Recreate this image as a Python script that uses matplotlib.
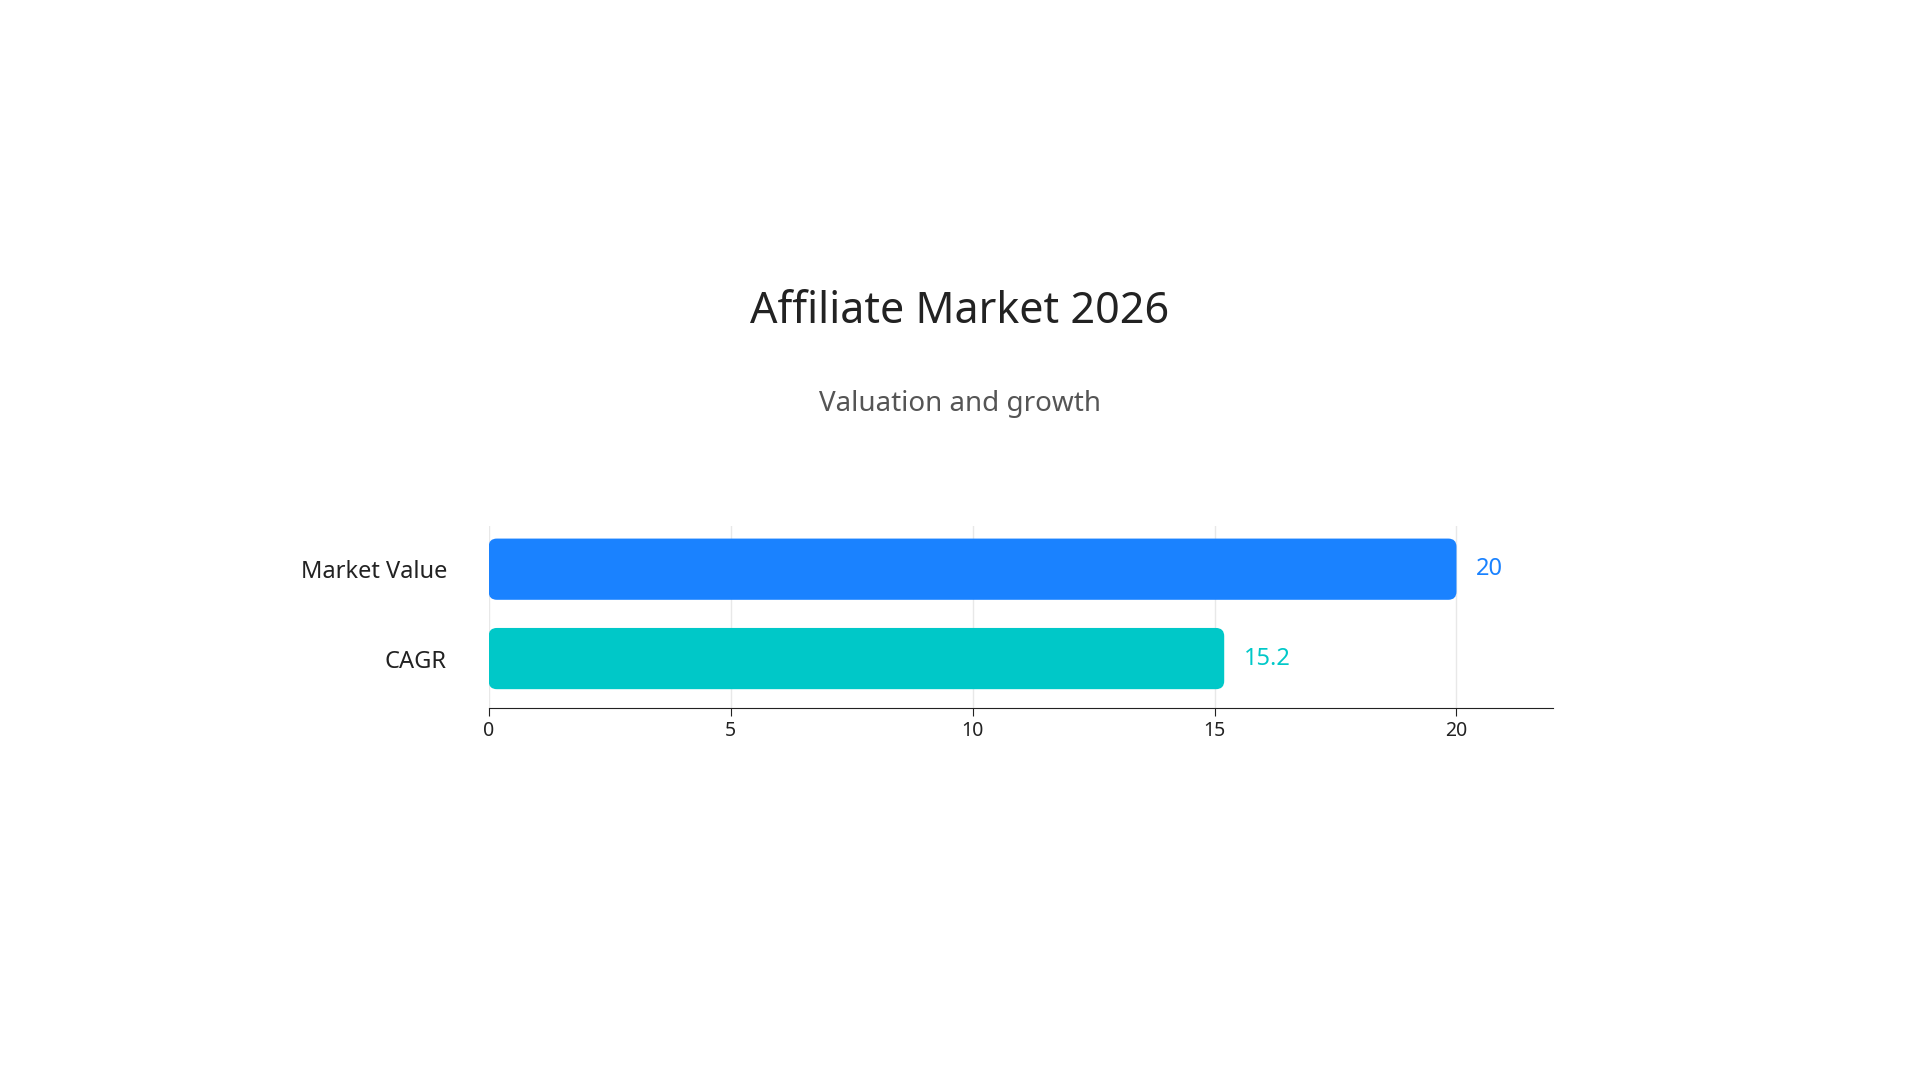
import matplotlib.pyplot as plt
from matplotlib.patches import FancyBboxPatch

plt.rcParams['font.family'] = ['Noto Sans', 'DejaVu Sans']

categories = ['Market Value', 'CAGR']
values = [20, 15.2]
value_labels = ['20', '15.2']
colors = ['#1a82ff', '#00c8c8']
ticks = [0, 5, 10, 15, 20]

fig = plt.figure(figsize=(19.2, 10.8), dpi=100)
ax = fig.add_axes([0.2545, 0.3447, 0.5545, 0.168])

bar_h = 0.685
for i, (v, c) in enumerate(zip(values, colors)):
    ax.add_patch(FancyBboxPatch((0, i - bar_h / 2), v, bar_h,
                                boxstyle='round,pad=0,rounding_size=0.17',
                                mutation_aspect=0.54, fc=c, ec='none', zorder=3))
    ax.text(v + 0.4, i, value_labels[i], color=c, fontsize=17, fontweight='bold',
            va='center', ha='left')

ax.set_xlim(0, 22)
ax.set_ylim(1.55, -0.48)
ax.set_yticks(range(len(categories)))
ax.set_yticklabels(categories, fontsize=17, color='#222222')
ax.set_xticks(ticks)
ax.set_xticklabels([str(t) for t in ticks], fontsize=14, color='#222222')
ax.tick_params(axis='y', length=0, pad=30)
ax.tick_params(axis='x', length=6, color='#222222', direction='out')
for s in ['top', 'right', 'left']:
    ax.spines[s].set_visible(False)
ax.spines['bottom'].set_color('#222222')
ax.grid(axis='x', color='#e8e8e8', lw=1, zorder=0)

fig.text(0.5, 0.711, 'Affiliate Market 2026', ha='center', va='center',
         fontsize=31, color='#222222')
fig.text(0.5, 0.626, 'Valuation and growth', ha='center', va='center',
         fontsize=20, color='#555555')

fig.savefig('out.png', dpi=100, facecolor='white')
